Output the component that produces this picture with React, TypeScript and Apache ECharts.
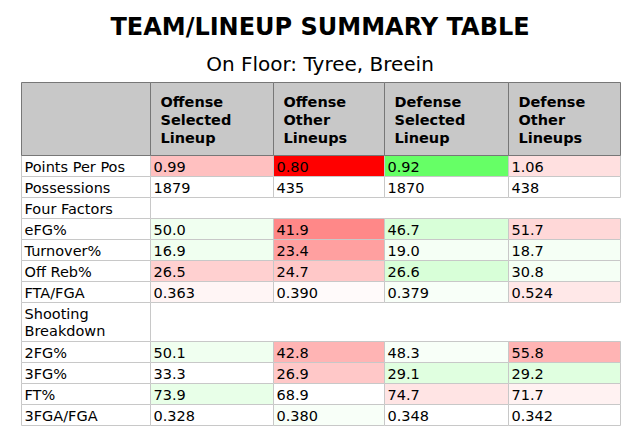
import React, { useEffect, useRef } from "react";
import * as echarts from "echarts";

const title = "TEAM/LINEUP SUMMARY TABLE";
const subtitle = "On Floor: Tyree, Breein";
const columnHeaders = [
  "",
  "Offense\nSelected\nLineup",
  "Offense\nOther\nLineups",
  "Defense\nSelected\nLineup",
  "Defense\nOther\nLineups",
];
const rowLabels = [
  "Points Per Pos",
  "Possessions",
  "Four Factors",
  "eFG%",
  "Turnover%",
  "Off Reb%",
  "FTA/FGA",
  "Shooting\nBreakdown",
  "2FG%",
  "3FG%",
  "FT%",
  "3FGA/FGA",
];
const rowDecimals: (number | null)[] = [2, 0, null, 1, 1, 1, 3, null, 1, 1, 1, 3];
const offenseSelected: (number | null)[] = [0.99, 1879, null, 50.0, 16.9, 26.5, 0.363, null, 50.1, 33.3, 73.9, 0.328];
const offenseOther: (number | null)[] = [0.8, 435, null, 41.9, 23.4, 24.7, 0.39, null, 42.8, 26.9, 68.9, 0.38];
const defenseSelected: (number | null)[] = [0.92, 1870, null, 46.7, 19.0, 26.6, 0.379, null, 48.3, 29.1, 74.7, 0.348];
const defenseOther: (number | null)[] = [1.06, 438, null, 51.7, 18.7, 30.8, 0.524, null, 55.8, 29.2, 71.7, 0.342];

// cell shading (style)
const offenseSelectedColors = ["#ffc0c0", "#ffffff", "#ffffff", "#f0fff0", "#f0fff0", "#ffd0d0", "#fff5f5", "#ffffff", "#f0fff0", "#ffffff", "#e8ffe8", "#ffffff"];
const offenseOtherColors = ["#ff0000", "#ffffff", "#ffffff", "#ff8888", "#ffa0a0", "#ffc8c8", "#fffafa", "#ffffff", "#ffb4b4", "#ffc8c8", "#ffffff", "#f8fff8"];
const defenseSelectedColors = ["#66ff66", "#ffffff", "#ffffff", "#d8ffd8", "#f5fff5", "#d8ffd8", "#f8fff8", "#ffffff", "#f8fff8", "#e0ffe0", "#ffe4e4", "#ffffff"];
const defenseOtherColors = ["#ffe0e0", "#ffffff", "#ffffff", "#ffd8d8", "#f5fff5", "#f5fff5", "#ffe8e8", "#ffffff", "#ffb4b4", "#e0ffe0", "#fff2f2", "#ffffff"];

// layout
const COL_W = [129, 123, 111, 124, 112];
const HEADER_H = 73;
const ROW_H = [21, 21, 21, 21, 21, 21, 21, 39, 21, 21, 21, 21];
const FONT = "DejaVu Sans";

type Cell = { x0: number; y0: number; x1: number; y1: number; text: string; fill: string; header: boolean; pad: number };

function buildCells(): Cell[] {
  const colStart: number[] = [];
  let acc = 0;
  for (const w of COL_W) {
    colStart.push(acc);
    acc += w;
  }
  const cells: Cell[] = [];
  columnHeaders.forEach((h, c) => {
    cells.push({ x0: colStart[c], y0: 0, x1: colStart[c] + COL_W[c], y1: HEADER_H, text: h, fill: "#c8c8c8", header: true, pad: 10 });
  });
  const cols = [offenseSelected, offenseOther, defenseSelected, defenseOther];
  const colors = [offenseSelectedColors, offenseOtherColors, defenseSelectedColors, defenseOtherColors];
  let y = HEADER_H;
  rowLabels.forEach((label, r) => {
    const h = ROW_H[r];
    cells.push({ x0: colStart[0], y0: y, x1: colStart[0] + COL_W[0], y1: y + h, text: label, fill: "#ffffff", header: false, pad: 3 });
    const isSection = rowDecimals[r] == null;
    if (!isSection) {
      cols.forEach((vals, ci) => {
        const v = vals[r];
        const d = rowDecimals[r] as number;
        const text = v == null ? "" : v.toFixed(d);
        cells.push({ x0: colStart[ci + 1], y0: y, x1: colStart[ci + 1] + COL_W[ci + 1], y1: y + h, text, fill: colors[ci][r], header: false, pad: 3 });
      });
    }
    y += h;
  });
  return cells;
}

export default function App() {
  const ref = useRef<HTMLDivElement>(null);
  useEffect(() => {
    document.body.style.margin = "0";
    if (!ref.current) return;
    const chart = echarts.init(ref.current, undefined, { renderer: "svg" });
    const cells = buildCells();
    const totalW = COL_W.reduce((a, b) => a + b, 0);
    const totalH = HEADER_H + ROW_H.reduce((a, b) => a + b, 0);
    const bodyCells = cells.filter((c) => !c.header);
    const headCells = cells.filter((c) => c.header);

    const renderCell = (list: Cell[]) => (params: any, api: any) => {
      const cell = list[params.dataIndex];
      const p0 = api.coord([api.value(0), api.value(1)]);
      const p1 = api.coord([api.value(2), api.value(3)]);
      const x = Math.round(p0[0]) + 0.5;
      const yy = Math.round(p0[1]) + 0.5;
      const w = Math.round(p1[0]) - Math.round(p0[0]);
      const h = Math.round(p1[1]) - Math.round(p0[1]);
      return {
        type: "group",
        children: [
          {
            type: "rect",
            shape: { x, y: yy, width: w, height: h },
            style: { fill: cell.fill, stroke: cell.header ? "#777777" : "#c8c8c8", lineWidth: 1 },
          },
          {
            type: "text",
            style: {
              text: cell.text,
              x: x + cell.pad,
              y: yy + h / 2 + (cell.header ? 1 : 0.5),
              fill: "#000000",
              font: `${cell.header ? "bold " : ""}14.5px '${FONT}'`,
              align: "left",
              verticalAlign: "middle",
              lineHeight: cell.header ? 18 : 17.5,
            },
          },
        ],
      };
    };

    chart.setOption({
      animation: false,
      backgroundColor: "#ffffff",
      grid: { left: 21, top: 82, width: totalW, height: totalH },
      xAxis: { type: "value", min: 0, max: totalW, show: false },
      yAxis: { type: "value", min: 0, max: totalH, inverse: true, show: false },
      graphic: [
        {
          type: "text",
          x: 320,
          y: 27,
          style: { text: title, font: `bold 24px '${FONT}'`, fill: "#000", align: "center", verticalAlign: "middle" },
        },
        {
          type: "text",
          x: 320,
          y: 64,
          style: { text: subtitle, font: `20px '${FONT}'`, fill: "#000", align: "center", verticalAlign: "middle" },
        },
      ],
      series: [
        {
          type: "custom",
          renderItem: renderCell(bodyCells),
          data: bodyCells.map((c) => [c.x0, c.y0, c.x1, c.y1]),
          encode: { x: [0, 2], y: [1, 3] },
          silent: true,
          clip: false,
        },
        {
          type: "custom",
          renderItem: renderCell(headCells),
          data: headCells.map((c) => [c.x0, c.y0, c.x1, c.y1]),
          encode: { x: [0, 2], y: [1, 3] },
          silent: true,
          clip: false,
        },
      ],
    });
    return () => chart.dispose();
  }, []);
  return <div ref={ref} style={{ position: "absolute", left: 0, top: 0, width: 634, height: 442 }} />;
}
